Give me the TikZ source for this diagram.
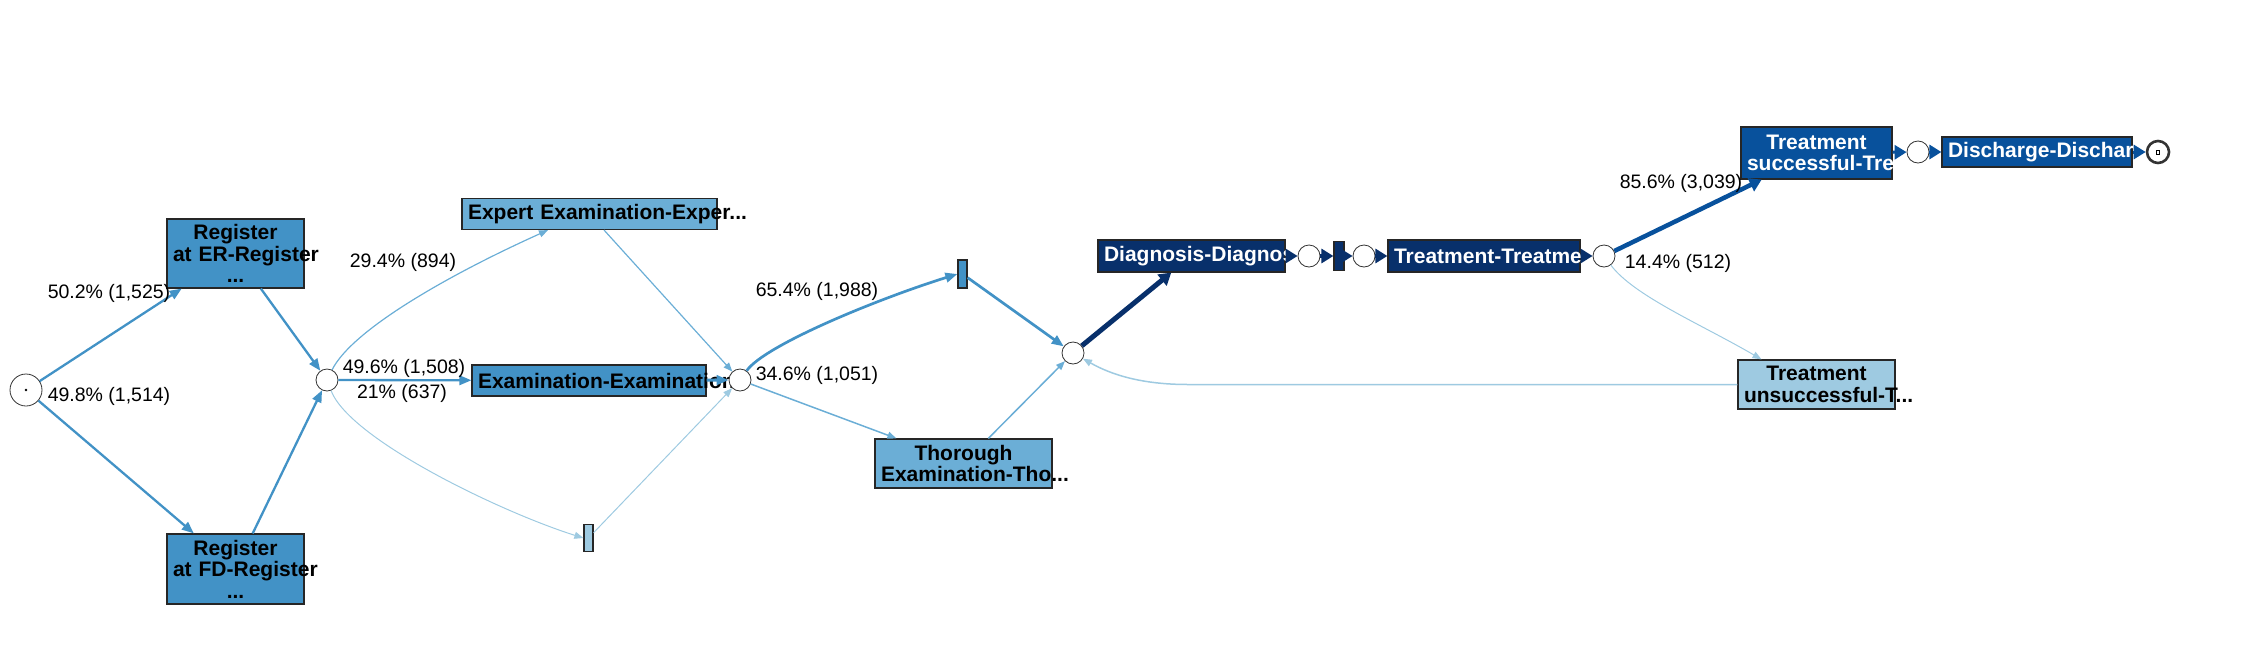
\documentclass[tikz,border=0pt]{standalone}
\usepackage{fontspec}
\setmainfont{Liberation Sans}
\usetikzlibrary{arrows.meta}
\definecolor{BlM} {HTML}{4292C6}
\definecolor{BlL} {HTML}{6BAED6}
\definecolor{BlXL}{HTML}{9ECAE1}
\definecolor{BlD} {HTML}{08306B}
\definecolor{BlS} {HTML}{08519C}
\newcommand{\boxfont}{\fontsize{21}{21.5}\selectfont\bfseries}
\newcommand{\lblfont}{\fontsize{19.5}{21}\selectfont}
\tikzset{
  BLK/.style args={#1/#2}{
    rectangle, draw=black!85, fill=#1, text=#2,
    font=\boxfont, align=center,
    inner xsep=6pt, inner ysep=0pt, line width=1.2pt,
    execute at begin node={\exhyphenpenalty=10000 \hyphenpenalty=10000}
  },
  BAR/.style={
    rectangle, draw=black!85, fill=#1, inner sep=0pt,
    minimum width=9pt, minimum height=28pt, line width=1.2pt
  },
  PLC/.style={
    circle, draw=black!80, fill=white, inner sep=0pt,
    minimum size=22pt, line width=0.8pt
  },
  LBL/.style={font=\lblfont, text=black, inner sep=0pt},
  ARR/.style={
    -{Triangle[length=12pt,width=9.5pt]},
    line width=2.3pt, color=#1
  },
  THN/.style={
    -{Triangle[length=9pt,width=7pt]},
    line width=1.2pt, color=#1
  },
  FAT/.style={
    -{Triangle[length=12pt,width=14pt]},
    line width=4pt, color=#1
  },
}
\begin{document}
\begin{tikzpicture}[x=1pt,y=-1pt]
\useasboundingbox (0,0) rectangle (2256,670);

%================ REGISTER =================
\node[BLK=BlM/black, text width=125pt, minimum height=69pt]
(regER) at (235.5,253.5) {Register\\at~ER-Register\\...};
\node[BLK=BlM/black, text width=125pt, minimum height=70pt]
(regFD) at (235.5,569) {Register\\at~FD-Register\\...};

%================ EXAMINATION =================
\node[BLK=BlL/black, text width=243pt, minimum height=31pt]
(expert) at (589.5,214) {Expert~Examination-Exper...};
\node[BLK=BlM/black, text width=222pt, minimum height=31pt]
(exam) at (589,380.5) {Examination-Examination};
\node[BAR=BlXL, minimum height=27pt] (skip1) at (588.5,538) {};

\node[BAR=BlM] (skip2) at (962.5,274) {};
\node[BLK=BlL/black, text width=165pt, minimum height=49pt]
(thor) at (963.5,463.5) {Thorough\\Examination-Tho...};

%================ DIAGNOSIS / TREATMENT =================
\node[BLK=BlD/white, text width=175pt, minimum height=32pt]
(diag) at (1191.5,256) {Diagnosis-Diagnos};
\node[BAR=BlD, minimum width=10pt, minimum height=29pt] (skip3) at (1339,256) {};
\node[BLK=BlD/white, text width=180pt, minimum height=32pt]
(treat) at (1484,256) {Treatment-Treatme};

\node[BLK=BlS/white, text width=139pt, minimum height=52pt]
(succ) at (1816.5,153) {Treatment\\successful-Tre};
\node[BLK=BlXL/black, text width=145pt, minimum height=49pt]
(unsucc) at (1816.5,384.5) {Treatment\\unsuccessful-T...};
\node[BLK=BlS/white, text width=178pt, minimum height=30pt]
(disch) at (2037,152) {Discharge-Dischar};

%================ PLACES =================
\node[PLC, minimum size=32pt] (src) at (26,390) {};
\fill (src.center) circle[radius=1.4pt];
\node[PLC] (j1) at (327,380) {};
\node[PLC] (j2) at (740,380) {};
\node[PLC] (j3) at (1073,353) {};
\node[PLC] (pa) at (1309,256) {};
\node[PLC] (pb) at (1364,256) {};
\node[PLC] (pc) at (1604,256) {};
\node[PLC] (pd) at (1918,152) {};
\node[PLC, line width=2.6pt] (sink) at (2158,152) {};
\node[draw, inner sep=0pt, minimum width=3pt, minimum height=4pt,
line width=0.5pt] (sinkmark) at (sink) {};

%================ ARCS =================
\draw[ARR=BlM] (src) -- (regER);
\draw[ARR=BlM] (src) -- (regFD);
\draw[ARR=BlM] (regER) -- (j1);
\draw[ARR=BlM] (regFD) -- (j1);

\draw[ARR=BlM] (j1) -- (exam);
\draw[THN=BlL] (j1) .. controls +(25,-50) and +(-100,45) .. ([xshift=-41.5pt]expert.south);
\draw[THN=BlXL,line width=1pt] (j1) .. controls +(23,60) and +(-80,-25) .. (skip1.west);

\draw[THN=BlL] (expert) -- (j2);
\draw[ARR=BlM,line width=3pt] (exam) -- (j2);
\draw[THN=BlXL,line width=1pt] (skip1) -- (j2);

\draw[ARR=BlM,line width=2.7pt] (j2) .. controls +(25,-35) and +(-80,25) .. (skip2.west);
\draw[THN=BlL,line width=1.5pt] (j2) -- (thor);
\draw[ARR=BlM,line width=2.7pt] (skip2) -- (j3);
\draw[THN=BlL,line width=1.5pt] (thor) -- (j3);

\draw[FAT=BlD,line width=5pt] (j3) -- (diag);
\draw[FAT=BlD] (diag) -- (pa);
\draw[FAT=BlD] (pa) -- (skip3);
\draw[FAT=BlD] (skip3) -- (pb);
\draw[FAT=BlD] (pb) -- (treat);
\draw[FAT=BlD] (treat) -- (pc);

\draw[FAT=BlS,line width=4.5pt] (pc) -- (succ);
\draw[THN=BlXL,line width=1pt] (pc) .. controls +(30,40) and +(-60,-35) .. ([xshift=-55pt]unsucc.north);

\draw[FAT=BlS,line width=3pt] (succ) -- (pd);
\draw[FAT=BlS,line width=3pt] (pd) -- (disch);
\draw[FAT=BlS,line width=3pt] (disch) -- (sink);

%================ LOOP BACK =================
\coordinate (retbend) at (1188,384.5);
\draw[THN=BlXL,line width=1.5pt] (unsucc.west) -- (retbend)
  .. controls (1140,384.5) and (1110,374) .. (j3);

%================ LABELS =================
\node[LBL] (l1) at (109,293) {50.2\% (1,525)};
\node[LBL] (l2) at (109,396) {49.8\% (1,514)};
\node[LBL] (l3) at (403,262) {29.4\% (894)};
\node[LBL] (l4) at (404,368) {49.6\% (1,508)};
\node[LBL] (l5) at (402,393) {21\% (637)};
\node[LBL] (l6) at (817,291) {65.4\% (1,988)};
\node[LBL] (l7) at (817,375) {34.6\% (1,051)};
\node[LBL] (l8) at (1681,183) {85.6\% (3,039)};
\node[LBL] (l9) at (1678,263) {14.4\% (512)};

\end{tikzpicture}
\end{document}
